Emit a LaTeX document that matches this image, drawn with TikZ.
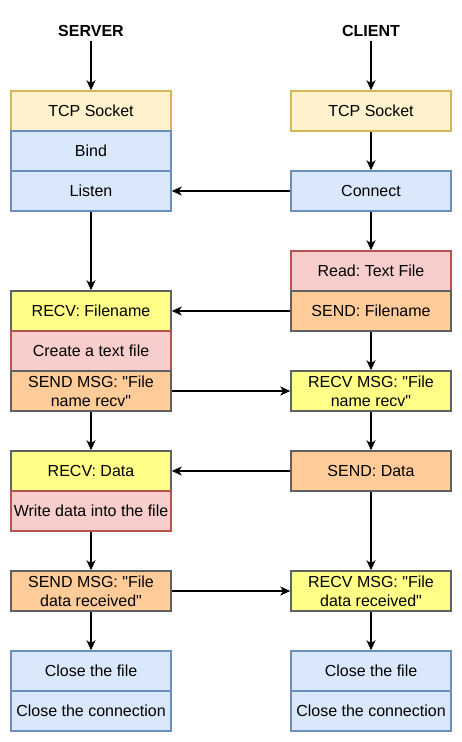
\documentclass[tikz,border=0pt]{standalone}
\usepackage{fontspec}
\setmainfont{Liberation Sans}[Ligatures=TeXOff]
\frenchspacing
\usetikzlibrary{arrows.meta}
\definecolor{ylF}{HTML}{FFF2CC}\definecolor{ylD}{HTML}{D6B656}
\definecolor{blF}{HTML}{DAE8FC}\definecolor{blD}{HTML}{6C8EBF}
\definecolor{rdF}{HTML}{F8CECC}\definecolor{rdD}{HTML}{B85450}
\definecolor{orF}{HTML}{FFCC99}\definecolor{grD}{HTML}{36393D}
\definecolor{yeF}{HTML}{FFFF88}
\begin{document}
\begin{tikzpicture}[x=1pt,y=-1pt,
  font=\fontsize{16}{19.2}\selectfont,
  box/.style={draw, line width=1.5pt, minimum width=160pt, minimum height=40pt, inner sep=0pt, align=center},
  sock/.style={box, fill=ylF, draw=ylD},
  blu/.style={box, fill=blF, draw=blD},
  red/.style={box, fill=rdF, draw=rdD},
  org/.style={box, fill=orF, draw=grD!80},
  yel/.style={box, fill=yeF, draw=grD!80},
  lbl/.style={font=\fontsize{16}{19.2}\selectfont\bfseries, inner sep=0pt, minimum height=20pt},
  arr/.style={line width=2pt, -{Stealth[length=10pt,width=9pt,inset=3pt]}}]
\useasboundingbox (0,0) rectangle (462,742);
% labels
\node[lbl] (srv) at (91,31) {SERVER};
\node[lbl] (cli) at (371,31) {CLIENT};
% server column
\node[sock] (s1) at (91,111) {TCP Socket};
\node[blu] (s2) at (91,151) {Bind};
\node[blu] (s3) at (91,191) {Listen};
\node[yel] (s4) at (91,311) {RECV: Filename};
\node[red] (s5) at (91,351) {Create a text file};
\node[org] (s6) at (91,391) {SEND MSG: "File\\name recv"};
\node[yel] (s7) at (91,471) {RECV: Data};
\node[red] (s8) at (91,511) {Write data into the file};
\node[org] (s9) at (91,591) {SEND MSG: "File\\data received"};
\node[blu] (s10) at (91,671) {Close the file};
\node[blu] (s11) at (91,711) {Close the connection};
% client column
\node[sock] (c1) at (371,111) {TCP Socket};
\node[blu] (c2) at (371,191) {Connect};
\node[red] (c3) at (371,271) {Read: Text File};
\node[org] (c4) at (371,311) {SEND: Filename};
\node[yel] (c5) at (371,391) {RECV MSG: "File\\name recv"};
\node[org] (c6) at (371,471) {SEND: Data};
\node[yel] (c7) at (371,591) {RECV MSG: "File\\data received"};
\node[blu] (c8) at (371,671) {Close the file};
\node[blu] (c9) at (371,711) {Close the connection};
% vertical arrows
\draw[arr] (srv.south) -- (s1.north);
\draw[arr] (s3.south) -- (s4.north);
\draw[arr] (s6.south) -- (s7.north);
\draw[arr] (s8.south) -- (s9.north);
\draw[arr] (s9.south) -- (s10.north);
\draw[arr] (cli.south) -- (c1.north);
\draw[arr] (c1.south) -- (c2.north);
\draw[arr] (c2.south) -- (c3.north);
\draw[arr] (c4.south) -- (c5.north);
\draw[arr] (c5.south) -- (c6.north);
\draw[arr] (c6.south) -- (c7.north);
\draw[arr] (c7.south) -- (c8.north);
% horizontal arrows
\draw[arr] (c2.west) -- (s3.east);
\draw[arr] (c4.west) -- (s4.east);
\draw[arr] (s6.east) -- (c5.west);
\draw[arr] (c6.west) -- (s7.east);
\draw[arr] (s9.east) -- (c7.west);
\end{tikzpicture}
\end{document}
